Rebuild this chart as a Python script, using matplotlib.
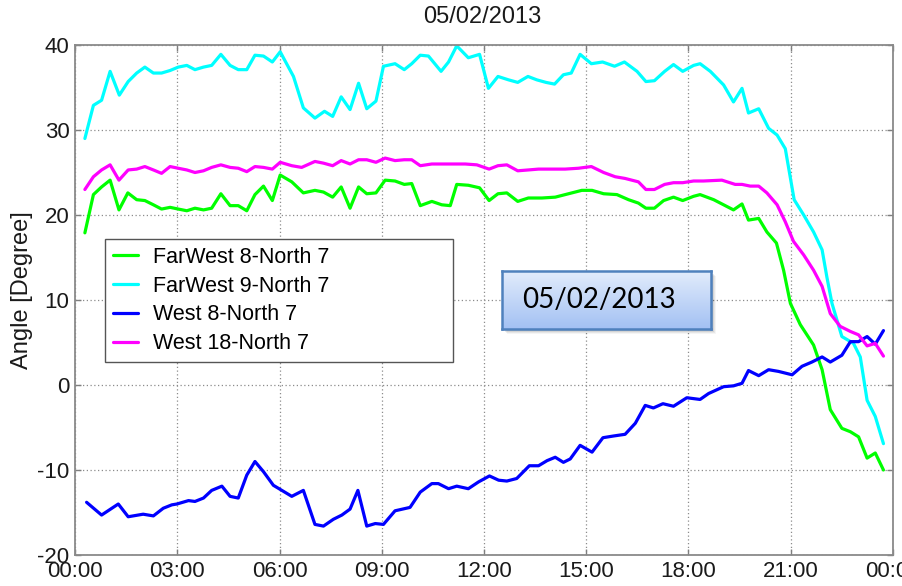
import numpy as np
import matplotlib
matplotlib.use('Agg')
import matplotlib.pyplot as plt
from matplotlib.patches import Rectangle

# ---- data (decimal hours, angle in degrees) ----
fw8_hours = [0.29, 0.54, 0.78, 1.03, 1.29, 1.55, 1.81, 2.05, 2.30, 2.54,
             2.79, 3.03, 3.28, 3.52, 3.77, 4.01, 4.28, 4.55, 4.79, 5.04,
             5.28, 5.53, 5.79, 6.02, 6.36, 6.70, 7.04, 7.29, 7.56, 7.81,
             8.07, 8.32, 8.56, 8.83, 9.10, 9.39, 9.66, 9.88, 10.13, 10.47,
             10.76, 11.01, 11.20, 11.54, 11.87, 12.15, 12.41, 12.67, 12.99, 13.30,
             13.70, 14.09, 14.48, 14.87, 15.17, 15.51, 15.90, 16.24, 16.53, 16.75,
             17.00, 17.27, 17.56, 17.83, 18.15, 18.34, 18.74, 19.03, 19.32, 19.57,
             19.76, 20.06, 20.30, 20.58, 20.79, 20.99, 21.28, 21.67, 21.92, 22.16,
             22.50, 22.75, 22.99, 23.24, 23.48, 23.72]
fw8_angle = [17.9, 22.4, 23.3, 24.1, 20.6, 22.6, 21.8, 21.7, 21.2, 20.7,
             20.9, 20.7, 20.5, 20.8, 20.6, 20.8, 22.5, 21.1, 21.1, 20.5,
             22.4, 23.4, 21.7, 24.7, 23.9, 22.6, 22.9, 22.7, 22.1, 23.3,
             20.8, 23.3, 22.5, 22.6, 24.1, 24.0, 23.6, 23.7, 21.1, 21.6,
             21.2, 21.1, 23.6, 23.5, 23.2, 21.7, 22.5, 22.6, 21.6, 22.0,
             22.0, 22.1, 22.5, 22.9, 22.9, 22.5, 22.4, 21.8, 21.4, 20.8,
             20.8, 21.7, 22.1, 21.7, 22.2, 22.4, 21.8, 21.2, 20.6, 21.3,
             19.4, 19.6, 18.0, 16.7, 13.5, 9.6, 7.1, 4.7, 1.8, -2.9,
             -5.1, -5.5, -6.1, -8.6, -8.0, -10.0]

fw9_hours = [0.29, 0.54, 0.78, 1.03, 1.30, 1.56, 1.81, 2.05, 2.30, 2.54,
             2.79, 3.03, 3.28, 3.52, 3.77, 4.01, 4.28, 4.55, 4.79, 5.04,
             5.28, 5.53, 5.79, 6.02, 6.41, 6.70, 7.04, 7.32, 7.56, 7.81,
             8.07, 8.32, 8.56, 8.83, 9.05, 9.39, 9.66, 9.88, 10.13, 10.37,
             10.74, 10.96, 11.20, 11.54, 11.87, 12.13, 12.41, 12.72, 12.99, 13.29,
             13.55, 13.82, 14.07, 14.33, 14.56, 14.82, 15.15, 15.48, 15.83, 16.12,
             16.49, 16.75, 17.00, 17.30, 17.56, 17.83, 18.15, 18.34, 18.64, 19.03,
             19.32, 19.57, 19.76, 20.06, 20.35, 20.60, 20.84, 21.10, 21.38, 21.67,
             21.92, 22.06, 22.21, 22.50, 22.84, 23.04, 23.24, 23.48, 23.72]
fw9_angle = [29.0, 32.9, 33.5, 36.9, 34.1, 35.7, 36.7, 37.4, 36.7, 36.7,
             37.0, 37.4, 37.6, 37.1, 37.4, 37.6, 38.9, 37.6, 37.1, 37.1,
             38.8, 38.7, 38.0, 39.2, 36.3, 32.6, 31.4, 32.2, 31.6, 33.9,
             32.4, 35.5, 32.5, 33.4, 37.5, 37.8, 37.1, 37.8, 38.8, 38.7,
             36.9, 38.0, 39.9, 38.5, 38.9, 34.9, 36.3, 35.9, 35.6, 36.3,
             35.9, 35.6, 35.4, 36.5, 36.7, 38.9, 37.8, 38.0, 37.5, 38.0,
             36.9, 35.7, 35.8, 36.9, 37.7, 36.9, 37.6, 37.8, 36.9, 35.3,
             33.3, 34.9, 32.0, 32.5, 30.2, 29.4, 27.8, 21.8, 20.0, 18.0,
             15.9, 12.7, 9.6, 5.7, 4.9, 3.3, -1.8, -3.7, -6.9]

w8_hours = [0.34, 0.78, 1.27, 1.56, 2.00, 2.30, 2.59, 2.84, 2.99, 3.33,
            3.52, 3.77, 4.01, 4.31, 4.55, 4.79, 5.04, 5.28, 5.53, 5.82,
            6.07, 6.36, 6.70, 7.04, 7.29, 7.58, 7.83, 8.07, 8.30, 8.56,
            8.81, 9.05, 9.39, 9.83, 10.13, 10.47, 10.66, 10.96, 11.20, 11.54,
            11.84, 12.16, 12.43, 12.67, 12.96, 13.33, 13.60, 13.85, 14.09, 14.33,
            14.53, 14.82, 15.17, 15.49, 15.80, 16.14, 16.44, 16.73, 16.97, 17.25,
            17.56, 17.95, 18.34, 18.59, 19.03, 19.32, 19.57, 19.76, 20.06, 20.35,
            20.64, 21.04, 21.33, 21.62, 21.92, 22.16, 22.50, 22.75, 22.99, 23.24,
            23.48, 23.72]
w8_angle = [-13.8, -15.3, -14.0, -15.5, -15.2, -15.4, -14.5, -14.1, -14.0, -13.6,
            -13.7, -13.3, -12.4, -11.9, -13.1, -13.3, -10.6, -9.0, -10.2, -11.8,
            -12.4, -13.1, -12.4, -16.4, -16.6, -15.8, -15.3, -14.6, -12.4, -16.6,
            -16.3, -16.4, -14.8, -14.4, -12.6, -11.6, -11.6, -12.2, -11.9, -12.2,
            -11.4, -10.7, -11.2, -11.3, -11.0, -9.5, -9.5, -8.9, -8.5, -9.1,
            -8.7, -7.1, -7.9, -6.2, -6.0, -5.8, -4.5, -2.4, -2.7, -2.2,
            -2.5, -1.5, -1.7, -1.0, -0.2, -0.1, 0.2, 1.7, 1.1, 1.8,
            1.6, 1.2, 2.2, 2.7, 3.3, 2.7, 3.5, 5.1, 5.1, 5.7,
            4.8, 6.4]

w18_hours = [0.29, 0.54, 0.78, 1.03, 1.29, 1.56, 1.81, 2.05, 2.30, 2.54,
             2.79, 3.03, 3.28, 3.52, 3.77, 4.01, 4.28, 4.55, 4.79, 5.04,
             5.28, 5.53, 5.79, 6.02, 6.36, 6.65, 7.04, 7.29, 7.56, 7.81,
             8.07, 8.32, 8.56, 8.83, 9.10, 9.39, 9.66, 9.88, 10.13, 10.47,
             10.81, 11.10, 11.45, 11.79, 12.15, 12.41, 12.67, 12.99, 13.30, 13.60,
             14.00, 14.38, 14.77, 15.15, 15.51, 15.85, 16.14, 16.53, 16.75, 17.00,
             17.30, 17.56, 17.83, 18.15, 18.44, 18.98, 19.37, 19.57, 19.81, 20.06,
             20.30, 20.60, 20.84, 21.08, 21.38, 21.67, 21.92, 22.16, 22.45, 22.75,
             22.99, 23.24, 23.48, 23.72]
w18_angle = [23.0, 24.5, 25.3, 25.9, 24.1, 25.3, 25.4, 25.7, 25.3, 24.9,
             25.7, 25.5, 25.3, 25.0, 25.2, 25.6, 25.9, 25.6, 25.5, 25.1,
             25.7, 25.6, 25.4, 26.2, 25.8, 25.6, 26.3, 26.1, 25.8, 26.4,
             26.0, 26.5, 26.5, 26.2, 26.7, 26.4, 26.5, 26.5, 25.8, 26.0,
             26.0, 26.0, 26.0, 25.9, 25.4, 25.8, 25.9, 25.2, 25.3, 25.4,
             25.4, 25.4, 25.5, 25.7, 25.0, 24.5, 24.3, 23.9, 23.0, 23.0,
             23.6, 23.8, 23.8, 24.0, 24.0, 24.1, 23.6, 23.6, 23.4, 23.4,
             22.6, 21.2, 19.2, 16.9, 15.3, 13.5, 11.6, 8.4, 6.9, 6.3,
             5.9, 4.6, 4.9, 3.4]

series_labels = ["FarWest 8-North 7", "FarWest 9-North 7",
                 "West 8-North 7", "West 18-North 7"]
series_colors = ["#00ff00", "#00ffff", "#0000ff", "#ff00ff"]

x_ticks = [0, 3, 6, 9, 12, 15, 18, 21, 24]
x_tick_labels = ["00:00", "03:00", "06:00", "09:00", "12:00",
                 "15:00", "18:00", "21:00", "00:00"]
y_ticks = [-20, -10, 0, 10, 20, 30, 40]

title_text = "05/02/2013"
y_label = "Angle [Degree]"

plt.rcParams['font.family'] = ['Liberation Sans', 'DejaVu Sans']
plt.rcParams['axes.unicode_minus'] = False  # plain hyphen like the original

W, H = 902, 586
fig = plt.figure(figsize=(W / 100, H / 100), dpi=100)
fig.patch.set_facecolor('white')

# axes box in pixels: x 75..893, y 45..555
ax = fig.add_axes([75 / W, 1 - 555 / H, 818 / W, 510 / H])

all_series = [(fw8_hours, fw8_angle), (fw9_hours, fw9_angle),
              (w8_hours, w8_angle), (w18_hours, w18_angle)]
for (hrs, ang), lab, col in zip(all_series, series_labels, series_colors):
    ax.plot(hrs, ang, color=col, linewidth=2.3, label=lab,
            solid_joinstyle='round', solid_capstyle='round')

ax.set_xlim(0, 24)
ax.set_ylim(-20, 40)
ax.set_xticks(x_ticks)
ax.set_xticklabels(x_tick_labels)
ax.set_yticks(y_ticks)

ax.grid(True, linestyle=(0, (1, 2)), color='#8c8c8c', linewidth=0.9)
ax.tick_params(axis='both', direction='in', length=4, width=1,
               colors='#7f7f7f', labelcolor='#1a1a1a', labelsize=16,
               top=True, right=True, pad=4)
for spine in ax.spines.values():
    spine.set_edgecolor('#8a8a8a')
    spine.set_linewidth(1.3)

leg = ax.legend(loc='upper left', bbox_to_anchor=(0.0367, 0.378, 0.4255, 0.242),
                mode='expand', borderaxespad=0, fontsize=15.5,
                handlelength=1.16, handletextpad=0.7, labelspacing=0.36,
                borderpad=0.38, fancybox=False, framealpha=1)
leg.get_frame().set_edgecolor('#555555')
leg.get_frame().set_linewidth(1.0)

# title and y label
fig.text(482 / W, 1 - 17 / H, title_text, ha='center', va='center',
         fontsize=17, color='#1a1a1a')
fig.text(22 / W, 1 - 290 / H, y_label, ha='center', va='center',
         rotation=90, fontsize=17, color='#1a1a1a')

# PowerPoint style callout box with gradient and soft shadow
bx0, by0, bw, bh = 502, 271, 209, 58
for i, a in enumerate([0.10, 0.08, 0.06, 0.04]):
    off = 2 + i
    fig.patches.append(Rectangle(((bx0 + off) / W, 1 - (by0 + bh + off) / H),
                                 bw / W, bh / H, transform=fig.transFigure,
                                 facecolor='black', edgecolor='none',
                                 alpha=a, zorder=2))

box = fig.add_axes([bx0 / W, 1 - (by0 + bh) / H, bw / W, bh / H], zorder=5)
top_rgb = np.array([0xe2, 0xec, 0xfc]) / 255
bot_rgb = np.array([0xa3, 0xc1, 0xf3]) / 255
t = np.linspace(0, 1, 64)[:, None]
grad = (top_rgb[None, :] * (1 - t) + bot_rgb[None, :] * t)[:, None, :]
box.imshow(grad, aspect='auto', extent=(0, 1, 0, 1), origin='upper')
box.set_xlim(0, 1)
box.set_ylim(0, 1)
box.set_xticks([])
box.set_yticks([])
for spine in box.spines.values():
    spine.set_edgecolor('#4f81bd')
    spine.set_linewidth(1.8)
box.text((522 - bx0) / bw, 0.5, title_text, ha='left', va='center',
         fontsize=20, family=['Lato', 'DejaVu Sans'], color='black')

fig.savefig('out.png', dpi=100, facecolor=fig.get_facecolor())
